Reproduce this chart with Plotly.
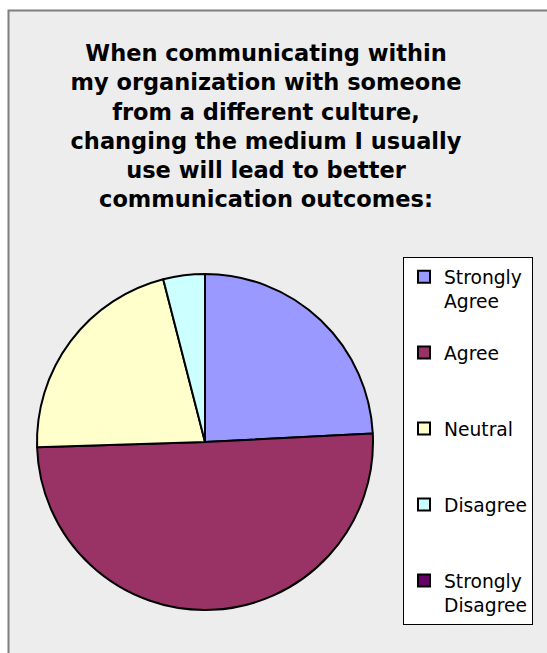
import plotly.graph_objects as go

labels = ["Strongly Agree", "Agree", "Neutral", "Disagree", "Strongly Disagree"]
legend_text = ["Strongly<br>Agree<br> ", "Agree<br> <br> ", "Neutral<br> <br> ", "Disagree<br> <br> ", "Strongly<br>Disagree"]
values = [24.2, 50.3, 21.5, 4.0, 0.0]
colors = ["#9999FF", "#993366", "#FFFFCC", "#CCFFFF", "#660066"]

title_text = ("When communicating within<br>my organization with someone<br>from a different culture,"
              "<br>changing the medium I usually<br>use will lead to better<br>communication outcomes:")

W, H = 547, 653

fig = go.Figure()
fig.add_trace(go.Pie(
    labels=legend_text,
    values=values,
    marker=dict(colors=colors, line=dict(color="black", width=2)),
    sort=False,
    direction="clockwise",
    rotation=0,
    textinfo="none",
    hoverinfo="label+percent",
    showlegend=True,
    domain=dict(x=[37 / W, 373 / W], y=[1 - 610 / H, 1 - 274 / H]),
))

fig.update_layout(
    width=W, height=H,
    margin=dict(l=0, r=0, t=0, b=0),
    paper_bgcolor="white",
    plot_bgcolor="white",
    font=dict(family="DejaVu Sans", color="black"),
    title=dict(text="<b>" + title_text + "</b>", x=266 / W, xanchor="center", xref="paper",
               y=1 - 61 / H, yanchor="top", yref="container",
               font=dict(family="DejaVu Sans", size=22.5, color="black")),
    legend=dict(x=403 / W, xanchor="left", y=1 - 257 / H, yanchor="top",
                bgcolor="white", bordercolor="black", borderwidth=1,
                font=dict(family="DejaVu Sans", size=18.7, color="black"),
                valign="top", traceorder="normal"),
    shapes=[dict(type="rect", xref="paper", yref="paper", x0=8.5 / W, x1=1.05, y0=-0.05, y1=1 - 10.5 / H,
                 fillcolor="#EDEDED", line=dict(color="#7F7F7F", width=2), layer="below")],
)

fig.write_html("out.html")
